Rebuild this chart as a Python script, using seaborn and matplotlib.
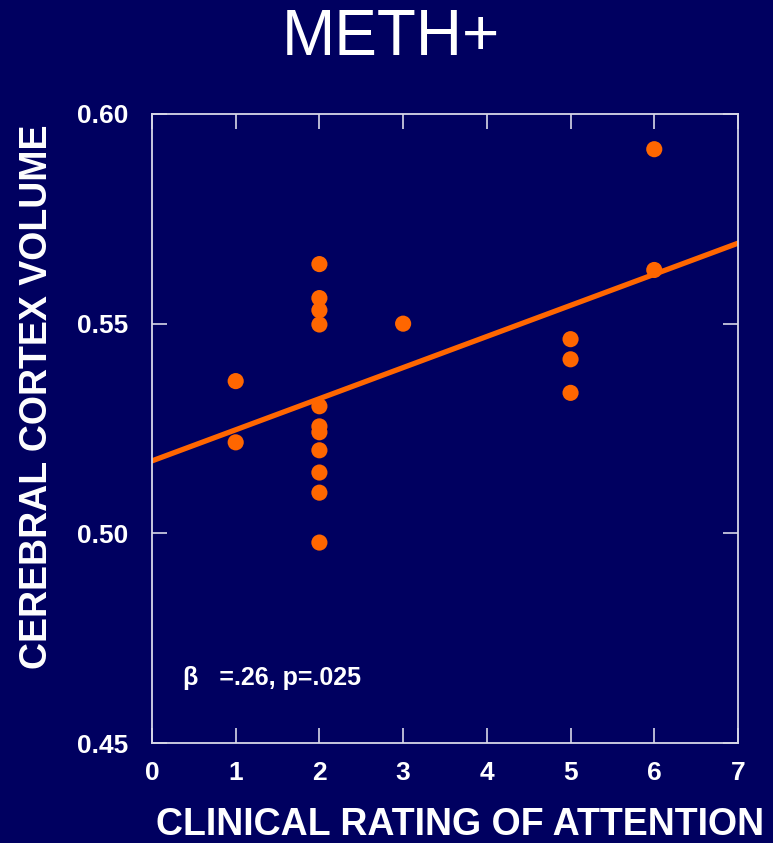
import matplotlib
matplotlib.use("Agg")
import matplotlib.pyplot as plt
import seaborn as sns
import pandas as pd

# Clinical attention rating vs. cerebral cortex volume (METH+ group)
attention = [1, 1,
             2, 2, 2, 2, 2, 2, 2, 2, 2, 2, 2,
             3,
             5, 5, 5,
             6, 6]
cortex_volume = [0.5363, 0.5217,
                 0.5642, 0.5561, 0.5532, 0.5498, 0.5303, 0.5255, 0.5241,
                 0.5198, 0.5145, 0.5097, 0.4978,
                 0.5500,
                 0.5463, 0.5415, 0.5335,
                 0.5916, 0.5628]
x_ticks = [0, 1, 2, 3, 4, 5, 6, 7]
y_ticks = [0.45, 0.50, 0.55, 0.60]
y_tick_labels = ["0.45", "0.50", "0.55", "0.60"]

df = pd.DataFrame({"attention": attention, "volume": cortex_volume})

BG = "#000060"
ORANGE = "#FF6600"
FG = "white"

sns.set_style("white")
plt.rcParams["font.family"] = ["Liberation Sans", "DejaVu Sans"]

fig = plt.figure(figsize=(7.73, 8.43), dpi=100, facecolor=BG)
ax = fig.add_axes([0.1966, 0.1186, 0.7581, 0.7462])
ax.set_facecolor(BG)
ax.set_xlim(0, 7)
ax.set_ylim(0.45, 0.60)

sns.regplot(data=df, x="attention", y="volume", ax=ax, ci=None,
            truncate=False,
            scatter_kws={"s": 135, "color": ORANGE, "edgecolor": "none",
                         "alpha": 1, "zorder": 3},
            line_kws={"color": ORANGE, "linewidth": 3.8, "zorder": 2})

ax.set_xlim(0, 7)
ax.set_ylim(0.45, 0.60)
ax.set_xticks(x_ticks)
ax.set_yticks(y_ticks)
ax.set_yticklabels(y_tick_labels)

for spine in ax.spines.values():
    spine.set_visible(True)
    spine.set_color("#D8D8E8")
    spine.set_linewidth(1.3)

ax.tick_params(direction="in", length=11, width=1.2, color="#D8D8E8",
               top=True, right=True, bottom=True, left=True,
               labelcolor=FG, labelsize=19)
ax.tick_params(axis="y", pad=17)
ax.tick_params(axis="x", pad=13)
for lbl in ax.get_xticklabels() + ax.get_yticklabels():
    lbl.set_fontweight("bold")

ax.set_xlabel("CLINICAL RATING OF ATTENTION", color=FG, fontsize=27,
              fontweight="bold")
ax.xaxis.set_label_coords(0.526, -0.101)
ax.set_ylabel("CEREBRAL CORTEX VOLUME", color=FG, fontsize=27,
              fontweight="bold")
ax.yaxis.set_label_coords(-0.166, 0.55)

ax.text(0.053, 0.103, "β   =.26, p=.025", transform=ax.transAxes,
        color=FG, fontsize=18, fontweight="bold", ha="left", va="center")

fig.text(0.506, 0.955, "METH+", color=FG, fontsize=46, ha="center",
         va="center")

fig.savefig("out.png", dpi=100, facecolor=BG)
